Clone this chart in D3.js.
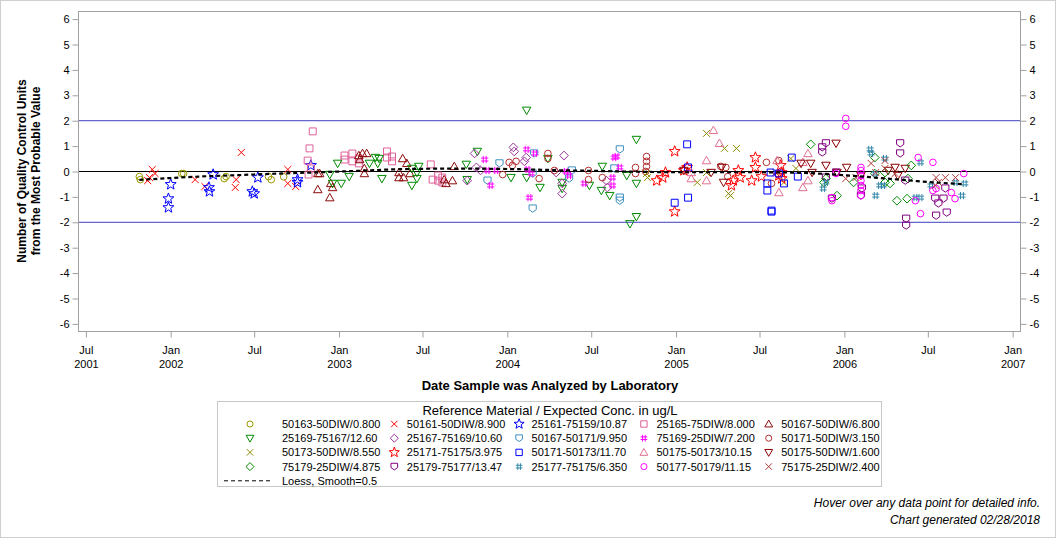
<!DOCTYPE html>
<html>
<head>
<meta charset="utf-8">
<script src="https://cdn.jsdelivr.net/npm/d3@7"></script>
<style>
  body { margin: 0; background: #fff; }
  svg text { font-family: "Liberation Sans", Arial, sans-serif; fill: #000; }
</style>
</head>
<body>
<svg id="chart" width="1056" height="538"></svg>
<script>
// ---- data: [date analyzed, QC units from MPV] ----
const s50163 = [["2001-10-25",-0.20],["2001-10-27",-0.32],["2002-01-25",-0.08],["2002-01-29",-0.08],["2002-04-27",-0.28],["2002-05-01",-0.20],["2002-08-01",-0.20],["2002-08-07",-0.32],["2002-09-03",-0.21]];
const s50161 = [["2001-11-12",-0.36],["2001-11-16",-0.24],["2001-11-22",0.08],["2001-11-28",-0.08],["2002-02-23",-0.32],["2002-03-16",-0.59],["2002-06-03",0.75],["2002-05-23",-0.32],["2002-05-21",-0.63],["2002-09-12",0.08],["2002-09-12",-0.47],["2002-09-29",-0.59]];
const s25161 = [["2002-01-01",-0.51],["2001-12-27",-1.07],["2001-12-27",-1.42],["2002-04-03",-0.12],["2002-03-25",-0.63],["2002-03-26",-0.79],["2002-06-27",-0.79],["2002-07-01",-0.87],["2002-07-09",-0.24],["2002-10-03",-0.32],["2002-10-03",-0.43],["2002-11-01",0.24]];
const s25165 = [["2002-11-05",1.58],["2002-10-29",0.91],["2002-10-25",0.43],["2002-11-01",0.12],["2002-10-27",-0.12],["2003-01-13",0.63],["2003-01-13",0.47],["2003-01-30",0.71],["2003-01-30",0.40],["2003-02-13",0.51],["2003-02-13",0.32],["2003-04-15",0.79],["2003-04-15",0.55],["2003-04-26",0.59],["2003-04-26",0.40],["2003-07-19",0.28],["2003-07-23",-0.32],["2003-08-04",-0.16],["2003-08-13",-0.24],["2003-08-13",-0.43],["2003-08-04",-0.36]];
const s50167 = [["2002-11-16",-0.71],["2002-12-12",-1.03],["2002-12-18",-0.63],["2002-12-14",-0.47],["2002-11-16",-0.08],["2002-11-20",-0.08],["2003-02-13",0.63],["2003-02-15",0.47],["2003-02-21",0.71],["2003-03-02",0.71],["2003-02-25",0.12],["2003-02-25",-0.08],["2003-05-19",0.51],["2003-05-28",0.32],["2003-05-11",-0.04],["2003-05-11",-0.24],["2003-05-21",-0.24],["2003-06-04",-0.08],["2003-08-17",-0.32],["2003-08-21",-0.47],["2003-09-04",-0.36],["2003-09-08",0.20]];
const s25169 = [["2002-12-29",0.32],["2002-12-12",-0.12],["2003-01-06",-0.47],["2002-12-18",-0.47],["2003-01-23",-0.20],["2003-03-08",0.32],["2003-03-21",0.55],["2003-03-29",0.51],["2003-03-26",0.32],["2003-04-04",-0.28],["2003-06-08",-0.55],["2003-06-08",0.12],["2003-06-19",-0.04],["2003-06-19",-0.28],["2003-06-23",0.20],["2003-10-04",0.28],["2003-10-28",0.79],["2003-10-06",-0.32],["2004-01-09",-0.24],["2004-02-12",2.41],["2004-02-12",-0.24],["2004-03-12",-0.63],["2004-03-29",0.51],["2004-04-29",-0.43],["2004-04-29",-0.67],["2004-06-27",-0.55],["2004-07-25",0.20],["2004-07-23",-0.75],["2004-08-10",-0.95],["2004-10-07",1.26],["2004-10-07",-1.78],["2004-09-23",-2.06],["2004-10-07",-0.47],["2004-09-16",-0.16]];
const s25167 = [["2003-10-22",0.71],["2003-10-26",0.16],["2003-10-06",-0.36],["2004-01-14",0.95],["2004-01-16",0.79],["2004-02-07",0.40],["2004-02-11",0.55],["2004-04-29",-0.87],["2004-05-03",0.63],["2004-04-29",-0.47],["2004-08-03",-0.36],["2004-08-05",-0.63],["2004-04-16",-0.04],["2003-11-04",0.04]];
const s50167b = [["2004-02-25",-1.46],["2004-09-01",0.87],["2004-09-01",-1.03],["2004-09-01",-1.15],["2003-11-19",-0.36],["2004-02-28",0.71],["2004-05-20",0.04],["2004-05-14",-0.28],["2004-02-25",-0.08],["2004-08-20",0.12],["2003-12-15",0.32]];
const s75169 = [["2003-11-13",0.47],["2003-11-26",-0.55],["2004-02-12",0.87],["2004-03-01",0.71],["2004-02-18",-1.03],["2004-02-14",0.08],["2004-02-22",-0.08],["2004-05-07",0.00],["2004-05-14",-0.16],["2004-06-16",-0.47],["2004-08-25",0.59],["2004-08-20",0.55],["2004-09-01",0.16],["2004-08-16",-0.24],["2004-08-16",-0.55],["2003-12-08",0.04],["2003-11-19",0.04]];
const s50171 = [["2004-01-05",0.36],["2004-01-20",0.40],["2004-01-12",0.24],["2004-03-29",0.71],["2004-03-29",0.51],["2004-03-10",-0.28],["2003-12-22",-0.12],["2004-04-12",0.04],["2004-06-25",0.04],["2004-06-25",-0.32],["2004-07-25",-0.24],["2004-10-05",0.16],["2004-10-05",-0.08],["2004-10-29",0.59],["2004-10-29",0.40],["2004-10-29",0.20],["2004-10-27",0.00],["2005-07-16",0.36],["2005-07-27",-0.47],["2005-08-12",0.43],["2005-04-23",-0.20],["2005-04-08",0.20],["2005-04-19",0.16]];
const s50173 = [["2005-03-08",1.50],["2005-02-16",-0.43],["2005-03-08",-0.04],["2004-10-29",-0.08],["2004-10-31",-0.24],["2005-04-16",0.91],["2005-05-12",0.91],["2005-04-25",-0.87],["2005-04-29",-0.95],["2005-09-07",0.51],["2005-09-18",0.12],["2005-08-23",-0.43],["2005-08-05",-0.04]];
const s25171 = [["2004-12-29",0.79],["2004-12-29",-1.58],["2004-11-20",-0.36],["2004-12-03",-0.24],["2004-12-09",-0.04],["2005-01-18",0.04],["2005-01-25",0.16],["2005-05-01",-0.55],["2005-05-05",-0.36],["2005-05-16",0.04],["2005-05-20",-0.24],["2005-06-14",-0.36],["2005-06-22",0.55],["2005-06-22",0.16],["2005-07-05",-0.20],["2005-08-16",0.24],["2005-08-18",-0.04],["2005-08-18",-0.28],["2005-08-12",-0.16]];
const s50171b = [["2005-01-25",1.07],["2005-01-27",0.16],["2004-12-29",-1.23],["2005-01-27",-1.03],["2005-07-27",-1.58],["2005-07-27",-1.54],["2005-07-25",-0.04],["2005-07-18",-0.47],["2005-07-18",-0.75],["2005-08-23",-0.47],["2005-09-09",0.55],["2005-09-22",-0.20],["2005-08-12",-0.08]];
const s50175 = [["2005-03-23",1.62],["2005-04-05",1.11],["2005-03-08",0.43],["2005-03-08",-0.36],["2005-02-03",-0.28],["2005-02-03",-0.04],["2005-08-12",-0.83],["2005-08-08",0.43],["2005-10-03",0.36],["2005-10-14",0.71],["2005-10-14",-0.36],["2005-10-03",-0.63]];
const s50175b = [["2005-01-18",0.04],["2005-03-18",-0.04],["2005-04-14",-0.43],["2005-04-10",0.16],["2005-10-23",-0.04],["2005-11-22",0.24],["2005-12-14",1.11],["2005-12-16",-0.04],["2006-01-06",0.16],["2006-02-06",-0.16],["2006-04-06",0.04],["2006-04-21",0.16],["2006-04-27",-0.16],["2006-05-13",0.12],["2005-09-29",0.32],["2005-10-20",0.32]];
const s75179 = [["2005-10-20",1.07],["2005-11-18",-0.43],["2005-11-22",-0.28],["2005-12-16",-0.95],["2006-01-21",-0.43],["2006-03-08",0.55],["2006-03-08",-0.08],["2006-03-30",-0.43],["2006-04-10",-0.47],["2006-04-25",-1.15],["2006-05-17",-1.07],["2006-05-26",0.24],["2006-05-19",-0.28],["2006-03-30",-0.04]];
const s25179 = [["2005-11-14",0.95],["2005-11-22",1.11],["2005-11-14",0.75],["2005-12-05",-1.07],["2006-02-06",-0.95],["2006-02-08",-0.67],["2006-05-02",1.11],["2006-05-02",0.71],["2006-05-15",-1.86],["2006-05-15",-2.13],["2006-05-13",-0.36],["2006-07-17",-1.07],["2006-07-19",-1.74],["2006-08-04",-1.07],["2006-07-24",-1.26],["2006-08-11",-1.62],["2006-08-08",-0.67],["2005-12-14",-0.04],["2005-11-22",-0.24]];
const s25177 = [["2006-02-26",0.87],["2006-02-28",0.71],["2006-03-30",0.51],["2006-03-10",-0.95],["2006-03-19",-0.55],["2005-11-16",-0.67],["2005-11-22",-0.43],["2006-03-26",-0.55],["2006-06-15",0.36],["2006-06-04",-1.03],["2006-06-15",-1.03],["2006-07-08",-0.55],["2006-09-13",-0.95],["2006-09-19",-0.47],["2006-08-30",-0.43],["2006-03-08",-0.08]];
const s50177 = [["2006-01-04",2.09],["2006-01-04",1.78],["2005-12-14",-0.08],["2006-02-06",0.16],["2006-02-06",0.04],["2006-02-06",-0.16],["2006-02-06",-0.36],["2006-02-06",-0.55],["2006-02-06",-0.75],["2006-02-06",-0.95],["2006-06-10",0.55],["2006-06-15",-1.66],["2006-06-04",-1.15],["2006-07-12",0.36],["2006-07-12",-0.75],["2006-07-19",-0.67],["2006-08-21",-0.83],["2006-08-29",-1.07],["2006-09-17",-0.08],["2005-12-05",-1.03],["2005-12-05",-1.15]];
const s75175 = [["2006-01-04",-0.28],["2006-02-28",0.32],["2006-03-30",0.43],["2006-01-26",-0.24],["2006-07-17",-0.55],["2006-08-08",-0.24],["2006-08-30",-0.24],["2006-07-19",-0.24],["2006-03-30",0.12],["2006-04-21",-0.08],["2006-03-10",-0.04],["2006-07-24",-0.43]];

// loess curve (Smooth=0.5)
const loessDates  = ["2001-10-25","2001-12-29","2002-03-03","2002-05-30","2002-08-25","2002-11-20","2003-02-15","2003-05-11","2003-08-06","2003-11-01","2004-01-27","2004-04-22","2004-07-18","2004-10-14","2005-01-08","2005-04-03","2005-06-30","2005-09-24","2005-12-20","2006-03-15","2006-06-09","2006-09-15"];
const loessValues = [-0.33,-0.26,-0.20,-0.14,-0.08,-0.03,0.03,0.09,0.11,0.11,0.09,0.05,0.02,-0.01,-0.03,-0.03,-0.03,-0.05,-0.13,-0.25,-0.38,-0.50];

const seriesNames = ["50163-50DIW/0.800","50161-50DIW/8.900","25161-75159/10.87","25165-75DIW/8.000","50167-50DIW/6.800",
  "25169-75167/12.60","25167-75169/10.60","50167-50171/9.950","75169-25DIW/7.200","50171-50DIW/3.150",
  "50173-50DIW/8.550","25171-75175/3.975","50171-50173/11.70","50175-50173/10.15","50175-50DIW/1.600",
  "75179-25DIW/4.875","25179-75177/13.47","25177-75175/6.350","50177-50179/11.15","75175-25DIW/2.400"];
const seriesValues = [s50163,s50161,s25161,s25165,s50167,s25169,s25167,s50167b,s75169,s50171,
  s50173,s25171,s50171b,s50175,s50175b,s75179,s25179,s25177,s50177,s75175];

const yTicks = [-6,-5,-4,-3,-2,-1,0,1,2,3,4,5,6];
const xTicks = ["2001-07-01","2002-01-01","2002-07-01","2003-01-01","2003-07-01","2004-01-01","2004-07-01","2005-01-01","2005-07-01","2006-01-01","2006-07-01","2007-01-01"];

// ---- styles ----
const colors = ["#999900","#ff0000","#0000ff","#e0609a","#8b0a0a",
  "#008a00","#993399","#3d8fbf","#ff00ff","#b03030",
  "#8c8c00","#ff0000","#0000ff","#e07090","#8b0000",
  "#008a00","#800080","#3388aa","#ff00ff","#b03a3a"];

// custom marker types (size = half-width squared)
const symCircle = { draw(c, s) { const r = Math.sqrt(s); c.moveTo(r, 0); c.arc(0, 0, r, 0, 2 * Math.PI); } };
const symX = { draw(c, s) { const r = Math.sqrt(s); c.moveTo(-r, -r); c.lineTo(r, r); c.moveTo(-r, r); c.lineTo(r, -r); } };
const symStar = { draw(c, s) {
  const R = Math.sqrt(s), ri = R * 0.42;
  for (let i = 0; i < 10; i++) {
    const a = -Math.PI / 2 + i * Math.PI / 5, rr = i % 2 ? ri : R;
    if (i) c.lineTo(rr * Math.cos(a), rr * Math.sin(a)); else c.moveTo(rr * Math.cos(a), rr * Math.sin(a));
  }
  c.closePath();
} };
const symSquare = { draw(c, s) { const r = Math.sqrt(s); c.rect(-r, -r, 2 * r, 2 * r); } };
const symTri = { draw(c, s) { const r = Math.sqrt(s); c.moveTo(0, -r); c.lineTo(r, r * 0.75); c.lineTo(-r, r * 0.75); c.closePath(); } };
const symTriDown = { draw(c, s) { const r = Math.sqrt(s); c.moveTo(0, r); c.lineTo(r, -r * 0.75); c.lineTo(-r, -r * 0.75); c.closePath(); } };
const symDiamond = { draw(c, s) { const r = Math.sqrt(s); c.moveTo(0, -r); c.lineTo(r, 0); c.lineTo(0, r); c.lineTo(-r, 0); c.closePath(); } };
const symHomeDown = { draw(c, s) { const r = Math.sqrt(s); c.moveTo(-r, -r); c.lineTo(r, -r); c.lineTo(r, r * 0.3); c.lineTo(0, r); c.lineTo(-r, r * 0.3); c.closePath(); } };
const symHash = { draw(c, s) {
  const r = Math.sqrt(s), a = r * 0.4;
  c.moveTo(-a, -r); c.lineTo(-a, r); c.moveTo(a, -r); c.lineTo(a, r);
  c.moveTo(-r, -a); c.lineTo(r, -a); c.moveTo(-r, a); c.lineTo(r, a);
} };

const shapes = [symCircle, symX, symStar, symSquare, symTri,
  symTriDown, symDiamond, symHomeDown, symHash, symCircle,
  symX, symStar, symSquare, symTri, symTriDown,
  symDiamond, symHomeDown, symHash, symCircle, symX];
const sizeOf = new Map([[symCircle, 11], [symX, 12], [symStar, 33], [symSquare, 12], [symTri, 18],
  [symTriDown, 18], [symDiamond, 19], [symHomeDown, 13], [symHash, 13]]);

const parse = d3.timeParse("%Y-%m-%d");
const svg = d3.select("#chart");

// outer border
svg.append("rect").attr("x", 0.5).attr("y", 0.5).attr("width", 1055).attr("height", 537)
  .attr("fill", "#fff").attr("stroke", "#cfcfcf");

// scales
const x = d3.scaleTime().domain([parse("2001-06-15"), parse("2007-01-18")]).range([78.5, 1020.5]);
const y = d3.scaleLinear().domain([-6.3, 6.3]).range([331.5, 11.5]);

const axisGray = "#a0a0a0";
function styleAxis(g) {
  g.select(".domain").remove();
  g.selectAll(".tick line").attr("stroke", axisGray);
  g.selectAll(".tick text").attr("font-size", 11).attr("fill", "#000");
}

// y axes (left + right)
svg.append("g").attr("transform", "translate(78.5,0)")
  .call(d3.axisLeft(y).tickValues(yTicks).tickFormat(d => String(d)).tickSize(6).tickPadding(3))
  .call(styleAxis);
svg.append("g").attr("transform", "translate(1020.5,0)")
  .call(d3.axisRight(y).tickValues(yTicks).tickFormat(d => String(d)).tickSize(6).tickPadding(3))
  .call(styleAxis);

// x axis with two-line labels (year under Jan and under the first tick)
const fmtMon = d3.timeFormat("%b"), fmtYear = d3.timeFormat("%Y");
const gx = svg.append("g").attr("transform", "translate(0,331.5)")
  .call(d3.axisBottom(x).tickValues(xTicks.map(parse)).tickSize(6).tickFormat(""))
  .call(styleAxis);
gx.selectAll(".tick text").remove();
gx.selectAll(".tick").append("text")
  .attr("text-anchor", "middle").attr("font-size", 11).attr("y", 22)
  .each(function (d, i) {
    const t = d3.select(this);
    t.append("tspan").attr("x", 0).text(fmtMon(d));
    if (i === 0 || d.getMonth() === 0) t.append("tspan").attr("x", 0).attr("dy", 14).text(fmtYear(d));
  });

// plot frame
svg.append("rect").attr("x", 78.5).attr("y", 11.5).attr("width", 942).attr("height", 320)
  .attr("fill", "none").attr("stroke", axisGray);

// reference lines
[2, -2].forEach(v => svg.append("line").attr("x1", 79).attr("x2", 1020)
  .attr("y1", y(v)).attr("y2", y(v)).attr("stroke", "#3f3fbf").attr("stroke-width", 1));
svg.append("line").attr("x1", 79).attr("x2", 1020).attr("y1", y(0)).attr("y2", y(0))
  .attr("stroke", "#000").attr("stroke-width", 1);

// markers
const plot = svg.append("g");
seriesValues.forEach((vals, i) => {
  const sym = d3.symbol().type(shapes[i]).size(sizeOf.get(shapes[i]));
  plot.append("g").selectAll("path").data(vals).join("path")
    .attr("transform", d => `translate(${x(parse(d[0]))},${y(d[1])})`)
    .attr("d", sym)
    .attr("fill", "none").attr("stroke", colors[i]).attr("stroke-width", 1);
});

// loess fit
const loess = loessDates.map((d, i) => [parse(d), loessValues[i]]);
svg.append("path").datum(loess)
  .attr("d", d3.line().x(d => x(d[0])).y(d => y(d[1])).curve(d3.curveMonotoneX))
  .attr("fill", "none").attr("stroke", "#000").attr("stroke-width", 2.2).attr("stroke-dasharray", "4,3");

// axis titles
svg.append("text").attr("x", 550).attr("y", 390).attr("text-anchor", "middle")
  .attr("font-size", 13).attr("font-weight", "bold").text("Date Sample was Analyzed by Laboratory");
const yt = svg.append("text").attr("transform", "translate(26,171) rotate(-90)")
  .attr("text-anchor", "middle").attr("font-size", 12).attr("font-weight", "bold");
yt.append("tspan").attr("x", 0).attr("y", 0).text("Number of Quality Control Units");
yt.append("tspan").attr("x", 0).attr("y", 14).text("from the Most Probable Value");

// legend
const lg = svg.append("g");
lg.append("rect").attr("x", 217.5).attr("y", 401.5).attr("width", 664).attr("height", 85)
  .attr("fill", "#fff").attr("stroke", "#c8c8c8");
lg.append("text").attr("x", 550).attr("y", 414.5).attr("text-anchor", "middle")
  .attr("font-size", 13).text("Reference Material / Expected Conc. in ug/L");
seriesNames.forEach((name, i) => {
  const col = i % 5, row = Math.floor(i / 5);
  const tx = 282 + col * 124.8, cy = 424 + row * 14.2;
  const mx = col === 0 ? 250 : tx - 12.5;
  lg.append("path").attr("transform", `translate(${mx},${cy})`)
    .attr("d", d3.symbol().type(shapes[i]).size(sizeOf.get(shapes[i]) * 0.85))
    .attr("fill", "none").attr("stroke", colors[i]);
  lg.append("text").attr("x", tx).attr("y", cy + 4).attr("font-size", 11).text(name);
});
const ly = 424 + 4 * 14.2;
lg.append("line").attr("x1", 224).attr("x2", 270).attr("y1", ly).attr("y2", ly)
  .attr("stroke", "#000").attr("stroke-dasharray", "4,3");
lg.append("text").attr("x", 282).attr("y", ly + 4).attr("font-size", 11).text("Loess, Smooth=0.5");

// footnotes
svg.append("text").attr("x", 1040).attr("y", 507).attr("text-anchor", "end").attr("font-size", 12)
  .attr("font-style", "italic").text("Hover over any data point for detailed info.");
svg.append("text").attr("x", 1040).attr("y", 524).attr("text-anchor", "end").attr("font-size", 12)
  .attr("font-style", "italic").text("Chart generated 02/28/2018");
</script>
</body>
</html>
